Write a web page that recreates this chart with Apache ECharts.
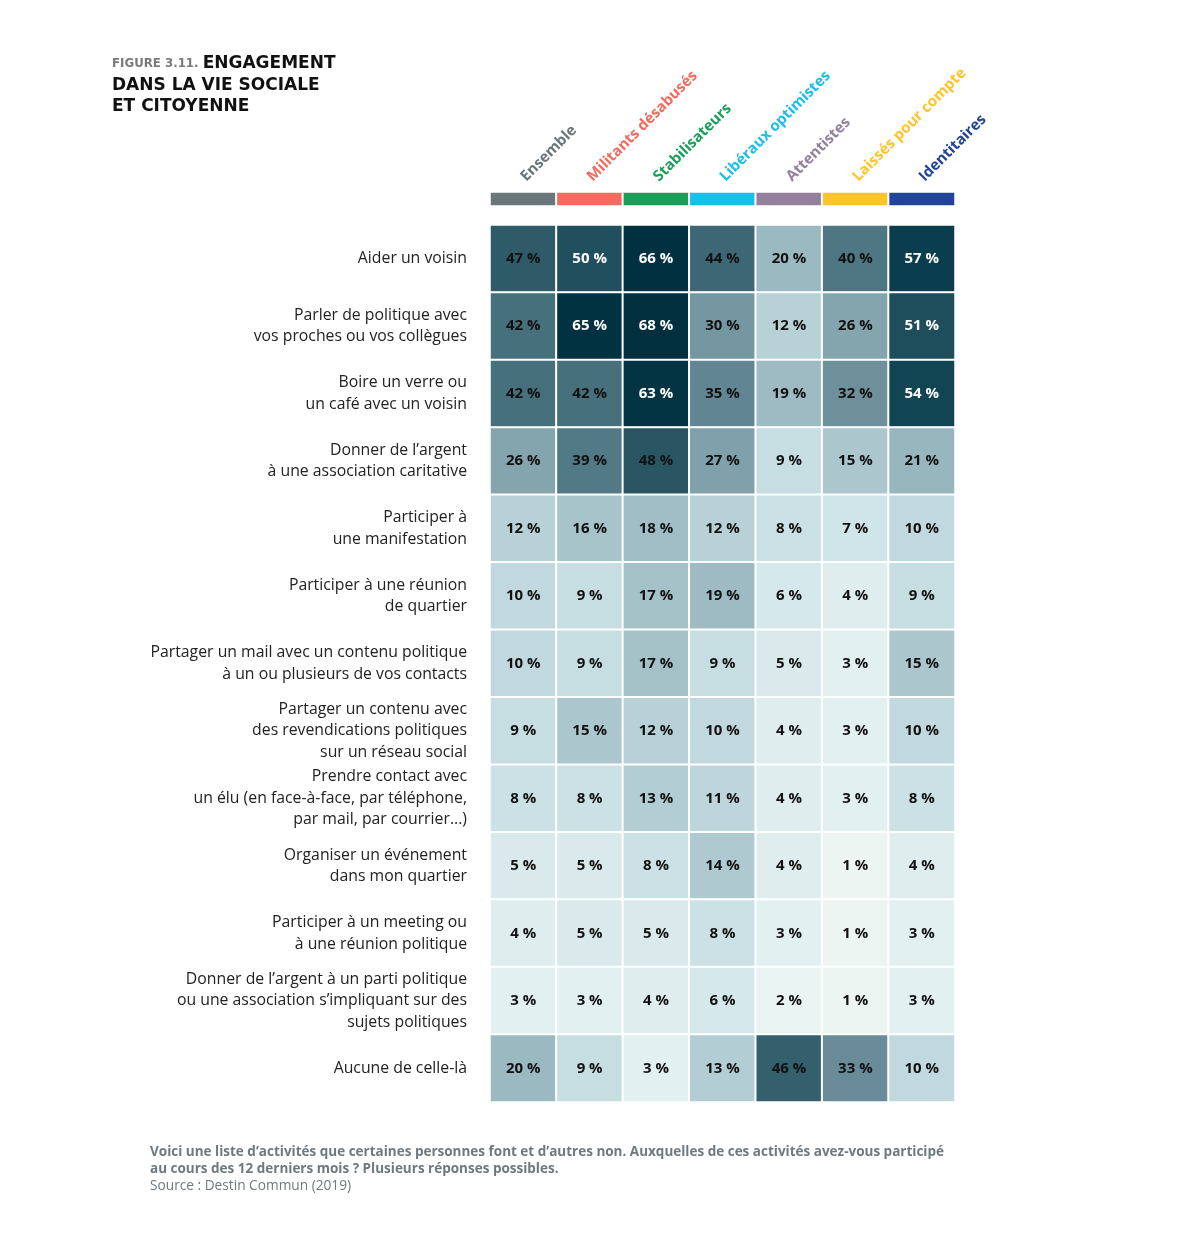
<!DOCTYPE html>
<html><head><meta charset="utf-8">
<script src="https://cdn.jsdelivr.net/npm/echarts@6/dist/echarts.min.js"></script>
<style>html,body{margin:0;padding:0;background:#fff}#c{width:1200px;height:1240px}</style>
</head><body><div id="c"></div>
<script>
var groups = ['Ensemble','Militants désabusés','Stabilisateurs','Libéraux optimistes','Attentistes','Laissés pour compte','Identitaires'];
var groupColors = ['#6b767b','#f26b5e','#1a9e5a','#19bfe8','#94809c','#fec42c','#20449a'];
var activities = [
  'Aider un voisin',
  'Parler de politique avec\nvos proches ou vos collègues',
  'Boire un verre ou\nun café avec un voisin',
  'Donner de l\u2019argent\nà une association caritative',
  'Participer à\nune manifestation',
  'Participer à une réunion\nde quartier',
  'Partager un mail avec un contenu politique\nà un ou plusieurs de vos contacts',
  'Partager un contenu avec\ndes revendications politiques\nsur un réseau social',
  'Prendre contact avec\nun élu (en face-à-face, par téléphone,\npar mail, par courrier...)',
  'Organiser un événement\ndans mon quartier',
  'Participer à un meeting ou\nà une réunion politique',
  'Donner de l\u2019argent à un parti politique\nou une association s\u2019impliquant sur des\nsujets politiques',
  'Aucune de celle-là'
];
var ensemble      = [47,42,42,26,12,10,10, 9, 8, 5,4,3,20];
var militants     = [50,65,42,39,16, 9, 9,15, 8, 5,5,3, 9];
var stabilisateurs= [66,68,63,48,18,17,17,12,13, 8,5,4, 3];
var liberaux      = [44,30,35,27,12,19, 9,10,11,14,8,6,13];
var attentistes   = [20,12,19, 9, 8, 6, 5, 4, 4, 4,3,2,46];
var laisses       = [40,26,32,15, 7, 4, 3, 3, 3, 1,1,1,33];
var identitaires  = [57,51,54,21,10, 9,15,10, 8, 4,3,3,10];
var columns = [ensemble, militants, stabilisateurs, liberaux, attentistes, laisses, identitaires];

var data = [];
columns.forEach(function(col, x){
  col.forEach(function(v, y){
    data.push({value:[x, y, v], label:{color: v >= 50 ? '#ffffff' : '#111111'}});
  });
});
var barData = groups.map(function(g, i){ return {value:[i, 0, 1], itemStyle:{color: groupColors[i]}}; });

var FONT = '"Open Sans", Lato, sans-serif';
var TFONT = '"DejaVu Sans", "Open Sans", sans-serif';
var chart = echarts.init(document.getElementById('c'), null, {renderer:'canvas'});
chart.setOption({
  backgroundColor:'#ffffff',
  animation:false,
  title:{
    left:107, top:48,
    text:'{a|FIGURE 3.11. }{b|ENGAGEMENT}\n{b|DANS LA VIE SOCIALE}\n{b|ET CITOYENNE}',
    textStyle:{
      fontFamily:TFONT,
      rich:{
        a:{fontSize:11.8, fontWeight:'bold', color:'#7a7a7a', fontFamily:TFONT, lineHeight:21.5},
        b:{fontSize:17, fontWeight:'bold', color:'#111', fontFamily:TFONT, lineHeight:21.5}
      }
    }
  },
  graphic:[
    {type:'text', left:150, top:1143, style:{text:'Voici une liste d\u2019activités que certaines personnes font et d\u2019autres non. Auxquelles de ces activités avez-vous participé\nau cours des 12 derniers mois ? Plusieurs réponses possibles.', font:'bold 13.5px '+FONT, fill:'#6f787d', lineHeight:17.5}},
    {type:'text', left:150, top:1179, style:{text:'Source : Destin Commun (2019)', font:'13.7px '+FONT, fill:'#6f787d'}}
  ],
  visualMap:{
    show:false, seriesIndex:0, min:0, max:70, dimension:2,
    inRange:{color:['#f2f8f5','#d0e5e9','#aec9d0','#98b6be','#7c9ea8','#618592','#47707d','#25525f','#0b4050','#023443','#002d3c']}
  },
  grid:[
    {left:490, right:245, top:225, bottom:138},
    {left:490, right:245, top:192, height:14}
  ],
  xAxis:[
    {type:'category', gridIndex:0, data:groups, show:false},
    {type:'category', gridIndex:1, data:groups, position:'top',
     axisLine:{show:false}, axisTick:{show:false},
     axisLabel:{rotate:-45, margin:13, interval:0, fontFamily:FONT, fontSize:15, fontWeight:'bold',
       color:function(v, i){ return groupColors[groups.indexOf(v)]; }}}
  ],
  yAxis:[
    {type:'category', gridIndex:0, data:activities, inverse:true,
     axisLine:{show:false}, axisTick:{show:false},
     axisLabel:{margin:23, fontFamily:FONT, fontSize:15.8, color:'#222', lineHeight:21.5, align:'right', interval:0}},
    {type:'category', gridIndex:1, data:[''], show:false}
  ],
  series:[
    {type:'heatmap', xAxisIndex:0, yAxisIndex:0, data:data,
     itemStyle:{borderColor:'#ffffff', borderWidth:2},
     label:{show:true, fontFamily:FONT, fontSize:15, fontWeight:'bold',
       formatter:function(p){ return p.value[2] + '\u00a0%'; }},
     emphasis:{disabled:true}},
    {type:'heatmap', xAxisIndex:1, yAxisIndex:1, data:barData,
     itemStyle:{borderColor:'#ffffff', borderWidth:2}, label:{show:false}, emphasis:{disabled:true}}
  ]
});
</script></body></html>
